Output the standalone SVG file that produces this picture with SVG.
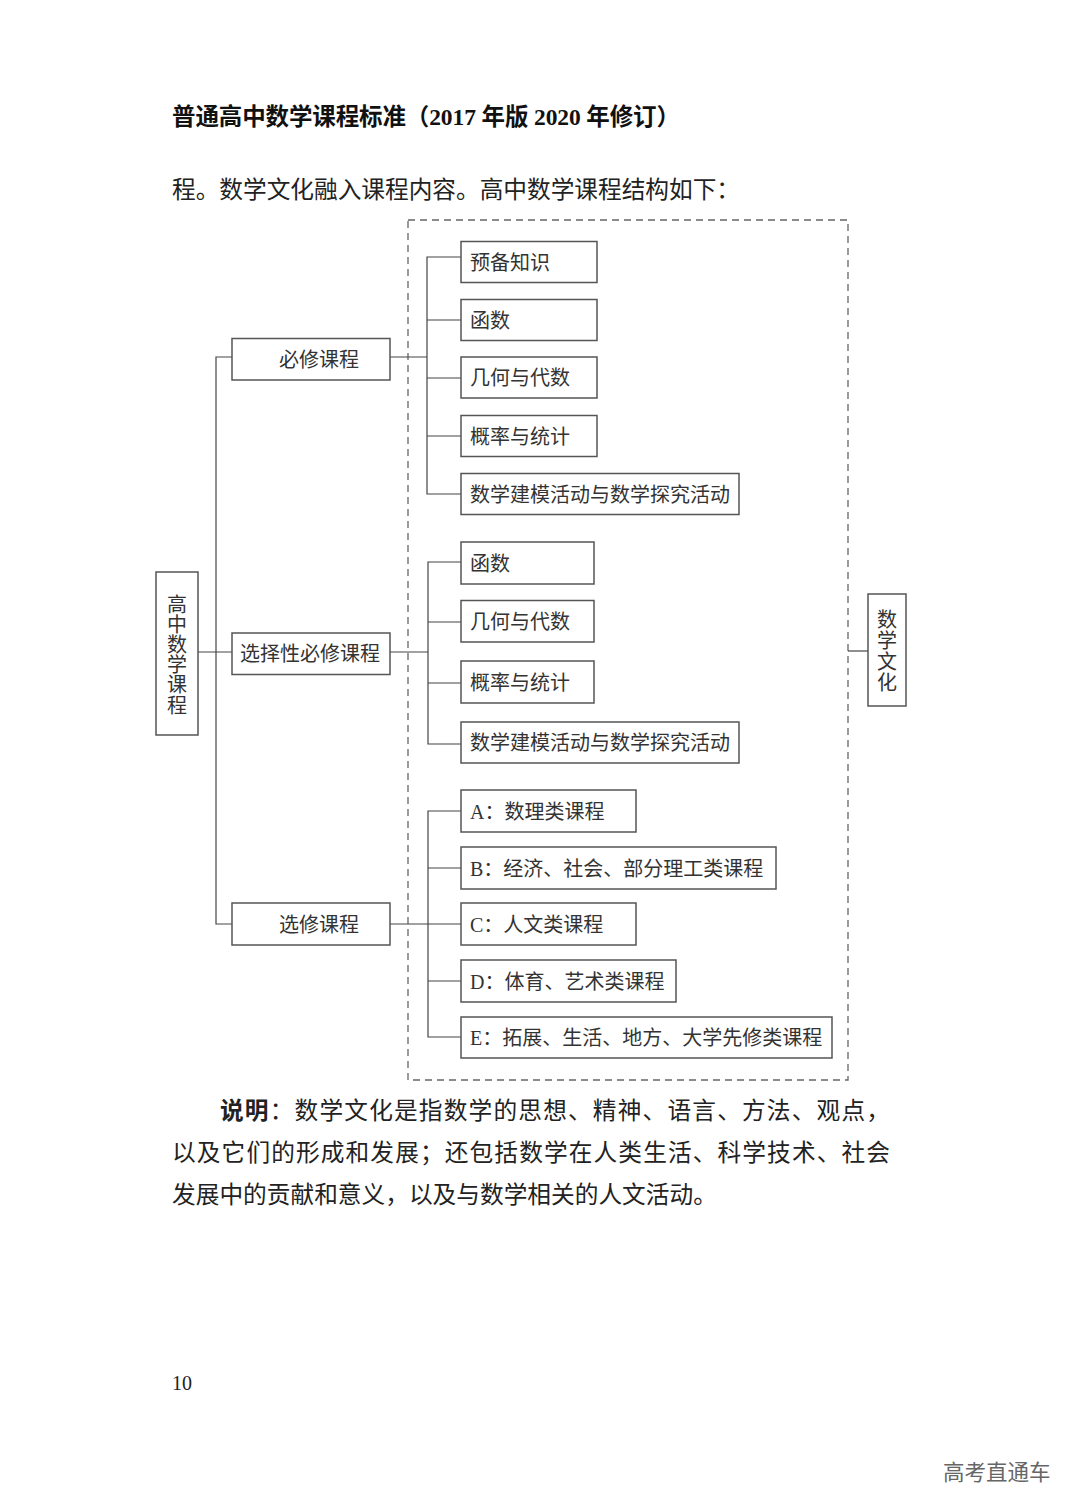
<svg xmlns="http://www.w3.org/2000/svg" width="1080" height="1512" viewBox="0 0 1080 1512">
<style>
.bg{fill:#ffffff}
.box{fill:#ffffff;stroke:#555555;stroke-width:1.5}
.ln{fill:none;stroke:#444444;stroke-width:1.2}
.dash{fill:none;stroke:#666666;stroke-width:1.3;stroke-dasharray:7 5}
.t{font-family:"Liberation Serif","Noto Sans CJK SC",serif;font-size:20px;fill:#333333}
.v{font-family:"Noto Sans CJK SC",sans-serif;font-size:20px;fill:#333333;writing-mode:vertical-rl;text-orientation:upright}
.head{font-family:"Liberation Serif","Noto Sans CJK SC",serif;font-size:23.5px;font-weight:bold;fill:#111111}
.body{font-family:"Liberation Serif","Noto Sans CJK SC",serif;font-size:23.7px;fill:#222222}
</style>
<rect class="bg" x="0" y="0" width="1080" height="1512"/>

<text class="head" x="172" y="125" textLength="508" lengthAdjust="spacing">普通高中数学课程标准（2017 年版 2020 年修订）</text>
<text class="body" x="172" y="198" textLength="568" lengthAdjust="spacing">程。数学文化融入课程内容。高中数学课程结构如下：</text>

<g id="connectors">
  <rect class="dash" x="408" y="220" width="440" height="860"/>
  <path class="ln" d="M198 652 H232"/>
  <path class="ln" d="M232 357 H216 V924 H232"/>
  <path class="ln" d="M390 357 H427"/>
  <path class="ln" d="M461 257 H427 V494 H461"/>
  <path class="ln" d="M427 320 H461 M427 378 H461 M427 436 H461"/>
  <path class="ln" d="M390 652 H428"/>
  <path class="ln" d="M461 562 H428 V744 H461"/>
  <path class="ln" d="M428 622 H461 M428 683 H461"/>
  <path class="ln" d="M390 924 H428"/>
  <path class="ln" d="M461 811 H428 V1037 H461"/>
  <path class="ln" d="M428 868 H461 M428 924 H461 M428 981 H461"/>
  <path class="ln" d="M848 651 H868"/>
</g>

<g id="root">
  <rect class="box" x="156" y="572" width="42" height="163"/>
  <text class="v" x="177" y="594" letter-spacing="0.2">高中数学课程</text>
</g>

<g id="must">
  <rect class="box" x="232" y="338.5" width="158" height="41.5"/>
  <text class="t" x="279" y="366.5">必修课程</text>
</g>
<g id="selreq">
  <rect class="box" x="232" y="633" width="158" height="41.5"/>
  <text class="t" x="240" y="661">选择性必修课程</text>
</g>
<g id="elective">
  <rect class="box" x="232" y="903" width="158" height="42"/>
  <text class="t" x="279" y="931.5">选修课程</text>
</g>

<g id="m1"><rect class="box" x="461" y="241.5" width="136" height="41"/><text class="t" x="470" y="269.5">预备知识</text></g>
<g id="m2"><rect class="box" x="461" y="299.5" width="136" height="41"/><text class="t" x="470" y="327.5">函数</text></g>
<g id="m3"><rect class="box" x="461" y="357" width="136" height="41"/><text class="t" x="470" y="385">几何与代数</text></g>
<g id="m4"><rect class="box" x="461" y="415.5" width="136" height="41"/><text class="t" x="470" y="443.5">概率与统计</text></g>
<g id="m5"><rect class="box" x="461" y="473.5" width="278" height="41"/><text class="t" x="470" y="501.5">数学建模活动与数学探究活动</text></g>

<g id="s1"><rect class="box" x="461" y="542" width="133" height="42"/><text class="t" x="470" y="570.5">函数</text></g>
<g id="s2"><rect class="box" x="461" y="600.5" width="133" height="41.5"/><text class="t" x="470" y="628.5">几何与代数</text></g>
<g id="s3"><rect class="box" x="461" y="661" width="133" height="42"/><text class="t" x="470" y="689.5">概率与统计</text></g>
<g id="s4"><rect class="box" x="461" y="722" width="278" height="41"/><text class="t" x="470" y="750">数学建模活动与数学探究活动</text></g>

<g id="e1"><rect class="box" x="461" y="790" width="175" height="42"/><text class="t" x="470" y="818.5">A：数理类课程</text></g>
<g id="e2"><rect class="box" x="461" y="847" width="315" height="42"/><text class="t" x="470" y="875.5">B：经济、社会、部分理工类课程</text></g>
<g id="e3"><rect class="box" x="461" y="903" width="175" height="42"/><text class="t" x="470" y="931.5">C：人文类课程</text></g>
<g id="e4"><rect class="box" x="461" y="960" width="215" height="42"/><text class="t" x="470" y="988.5">D：体育、艺术类课程</text></g>
<g id="e5"><rect class="box" x="461" y="1017" width="371" height="41"/><text class="t" x="470" y="1045">E：拓展、生活、地方、大学先修类课程</text></g>

<g id="culture">
  <rect class="box" x="868" y="594" width="38" height="112"/>
  <text class="v" x="887" y="609" letter-spacing="1.3">数学文化</text>
</g>

<text class="body" x="220" y="1119" textLength="670" lengthAdjust="spacing"><tspan font-weight="bold">说明</tspan>：数学文化是指数学的思想、精神、语言、方法、观点，</text>
<text class="body" x="172" y="1161" textLength="718" lengthAdjust="spacing">以及它们的形成和发展；还包括数学在人类生活、科学技术、社会</text>
<text class="body" x="172" y="1203">发展中的贡献和意义，以及与数学相关的人文活动。</text>

<text x="172" y="1390" style="font-family:'Liberation Serif',serif;font-size:20px;fill:#222">10</text>
<text x="943" y="1480" style="font-family:'Noto Sans CJK SC',sans-serif;font-size:21.5px;fill:#666666">高考直通车</text>
</svg>
